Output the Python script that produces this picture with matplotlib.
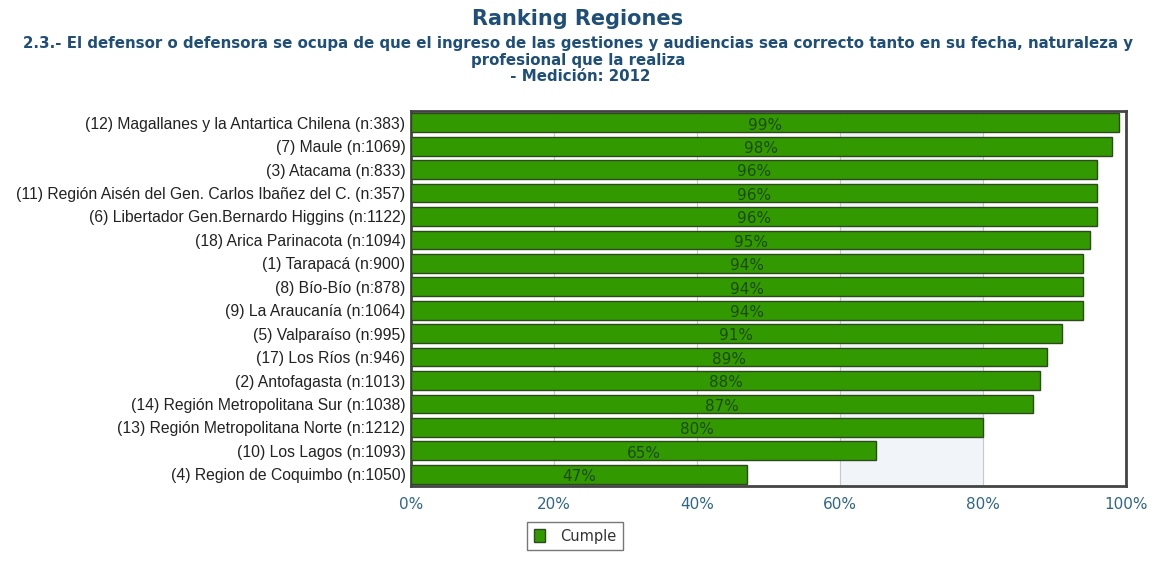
import matplotlib.pyplot as plt
import matplotlib.patches as mpatches

# Datos del ranking
regiones = [
    "(12) Magallanes y la Antartica Chilena (n:383)",
    "(7) Maule (n:1069)",
    "(3) Atacama (n:833)",
    "(11) Región Aisén del Gen. Carlos Ibañez del C. (n:357)",
    "(6) Libertador Gen.Bernardo Higgins (n:1122)",
    "(18) Arica Parinacota (n:1094)",
    "(1) Tarapacá (n:900)",
    "(8) Bío-Bío (n:878)",
    "(9) La Araucanía (n:1064)",
    "(5) Valparaíso (n:995)",
    "(17) Los Ríos (n:946)",
    "(2) Antofagasta (n:1013)",
    "(14) Región Metropolitana Sur (n:1038)",
    "(13) Región Metropolitana Norte (n:1212)",
    "(10) Los Lagos (n:1093)",
    "(4) Region de Coquimbo (n:1050)",
]
cumple = [99, 98, 96, 96, 96, 95, 94, 94, 94, 91, 89, 88, 87, 80, 65, 47]
ticks_x = [0, 20, 40, 60, 80, 100]

VERDE = "#339900"
BORDE = "#2d4a1e"
AZUL = "#1f4f78"

W, H = 1156, 563
fig = plt.figure(figsize=(W / 100, H / 100), dpi=100)
# area del grafico en pixeles
x0, x1, y0, y1 = 411, 1126, 111, 486
ax = fig.add_axes([x0 / W, 1 - y1 / H, (x1 - x0) / W, (y1 - y0) / H])

y = list(range(len(regiones)))
ax.axvspan(60, 80, color="#f1f5fa", zorder=0)
ax.barh(y, cumple, height=0.8, color=VERDE, edgecolor=BORDE, linewidth=1.0, zorder=3)
for i, v in enumerate(cumple):
    ax.text(v / 2, i + 0.1, f"{v}%", ha="center", va="center", fontsize=11,
            color="#1d4a0a", zorder=4)

ax.set_xlim(0, 100)
ax.set_ylim(len(regiones) - 0.5, -0.5)
ax.set_yticks(y)
ax.set_yticklabels(regiones, fontsize=11.3, color="#222222", family="Liberation Sans")
ax.set_xticks(ticks_x)
ax.set_xticklabels([f"{t}%" for t in ticks_x], fontsize=11, color="#2f6688")
ax.tick_params(axis="y", length=0, pad=4)
ax.tick_params(axis="x", length=0, pad=8)
ax.grid(axis="x", color="#c8c8c8", linewidth=0.8, zorder=1)
for s in ax.spines.values():
    s.set_color("#444444")
    s.set_linewidth(2)

fig.text(0.5, 1 - 19 / H, "Ranking Regiones", ha="center", va="center",
         fontsize=15, fontweight="bold", color=AZUL)
fig.text(0.5, 1 - 60 / H,
         "2.3.- El defensor o defensora se ocupa de que el ingreso de las gestiones y audiencias sea correcto tanto en su fecha, naturaleza y\nprofesional que la realiza\n - Medición: 2012",
         ha="center", va="center", fontsize=10.8, fontweight="bold", color=AZUL, linespacing=1.12)

parche = mpatches.Patch(facecolor=VERDE, edgecolor=BORDE, label="Cumple")
leg = fig.legend(handles=[parche], loc="center", bbox_to_anchor=(575 / W, 1 - 536 / H),
                 fontsize=10.5, frameon=True, fancybox=False, edgecolor="#555555",
                 handlelength=0.8, handleheight=0.9, borderpad=0.45, handletextpad=1.0)
for t in leg.get_texts():
    t.set_color("#333333")

plt.savefig("out.png", dpi=100)
